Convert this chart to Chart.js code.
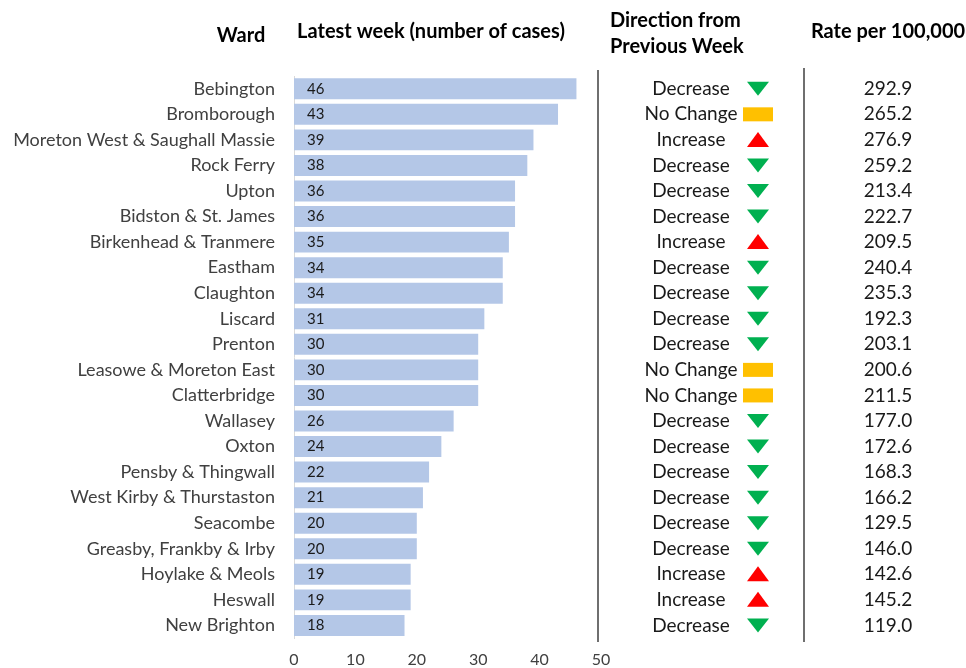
<!DOCTYPE html>
<html>
<head>
<meta charset="utf-8">
<script src="https://cdn.jsdelivr.net/npm/chart.js@4/dist/chart.umd.min.js"></script>
<style>
  html, body { margin: 0; padding: 0; background: #fff; }
  #wrap { width: 966px; height: 668px; position: relative; }
</style>
</head>
<body>
<div id="wrap"><canvas id="chart" width="966" height="668"></canvas></div>
<script>
// ward data, top to bottom
const wards = [
  'Bebington', 'Bromborough', 'Moreton West & Saughall Massie', 'Rock Ferry', 'Upton',
  'Bidston & St. James', 'Birkenhead & Tranmere', 'Eastham', 'Claughton', 'Liscard',
  'Prenton', 'Leasowe & Moreton East', 'Clatterbridge', 'Wallasey', 'Oxton',
  'Pensby & Thingwall', 'West Kirby & Thurstaston', 'Seacombe', 'Greasby, Frankby & Irby',
  'Hoylake & Meols', 'Heswall', 'New Brighton'
];
const cases = [46, 43, 39, 38, 36, 36, 35, 34, 34, 31, 30, 30, 30, 26, 24, 22, 21, 20, 20, 19, 19, 18];
const direction = [
  'Decrease', 'No Change', 'Increase', 'Decrease', 'Decrease',
  'Decrease', 'Increase', 'Decrease', 'Decrease', 'Decrease',
  'Decrease', 'No Change', 'No Change', 'Decrease', 'Decrease',
  'Decrease', 'Decrease', 'Decrease', 'Decrease',
  'Increase', 'Increase', 'Decrease'
];
const rates = [292.9, 265.2, 276.9, 259.2, 213.4, 222.7, 209.5, 240.4, 235.3, 192.3, 203.1,
  200.6, 211.5, 177.0, 172.6, 168.3, 166.2, 129.5, 146.0, 142.6, 145.2, 119.0];
const xTicks = [0, 10, 20, 30, 40, 50];

const FONT = 'Lato, "Open Sans", sans-serif';
const TEXT = '#404040';

// draws headers, in-bar values, direction column and rate column
const tablePlugin = {
  id: 'tableColumns',
  afterDraw(chart) {
    const ctx = chart.ctx;
    const y = chart.scales.y;
    const meta = chart.getDatasetMeta(0);
    ctx.save();

    // headers
    ctx.fillStyle = '#000';
    ctx.font = 'bold 20px ' + FONT;
    ctx.textBaseline = 'middle';
    ctx.textAlign = 'center';
    ctx.fillText('Ward', 241, 36);
    ctx.fillText('Latest week (number of cases)', 431, 32);
    ctx.fillText('Rate per 100,000', 888, 32);
    ctx.textAlign = 'left';
    ctx.fillText('Direction from', 610, 21);
    ctx.fillText('Previous Week', 610, 47);

    // separators
    ctx.strokeStyle = '#404040';
    ctx.lineWidth = 1.5;
    ctx.beginPath();
    ctx.moveTo(598, 70); ctx.lineTo(598, 642);
    ctx.moveTo(804, 68); ctx.lineTo(804, 642);
    ctx.stroke();

    wards.forEach((w, i) => {
      const py = y.getPixelForValue(i);
      // value inside bar
      ctx.fillStyle = '#1a1a1a';
      ctx.font = '15px ' + FONT;
      ctx.textAlign = 'left';
      ctx.fillText(String(cases[i]), meta.data[i].base + 13, py);
      // direction text and rate
      ctx.font = '19px ' + FONT;
      ctx.textAlign = 'center';
      ctx.fillText(direction[i], 691, py);
      ctx.fillText(rates[i].toFixed(1), 888, py);
      // icon
      const cx = 758;
      if (direction[i] === 'Decrease') {
        ctx.fillStyle = '#00B050';
        ctx.beginPath();
        ctx.moveTo(cx - 11, py - 7); ctx.lineTo(cx + 11, py - 7); ctx.lineTo(cx, py + 7);
        ctx.closePath(); ctx.fill();
      } else if (direction[i] === 'Increase') {
        ctx.fillStyle = '#FF0000';
        ctx.beginPath();
        ctx.moveTo(cx - 11, py + 7); ctx.lineTo(cx + 11, py + 7); ctx.lineTo(cx, py - 8);
        ctx.closePath(); ctx.fill();
      } else {
        ctx.fillStyle = '#FFC000';
        ctx.fillRect(743, py - 7, 30, 14);
      }
    });
    ctx.restore();
  }
};

new Chart(document.getElementById('chart').getContext('2d'), {
  type: 'bar',
  data: {
    labels: wards,
    datasets: [{
      data: cases,
      backgroundColor: '#B4C7E7',
      borderWidth: 0,
      barPercentage: 0.82,
      categoryPercentage: 1
    }]
  },
  options: {
    indexAxis: 'y',
    responsive: false,
    animation: false,
    layout: { padding: { top: 76, right: 365, bottom: 0, left: 0 } },
    plugins: { legend: { display: false }, tooltip: { enabled: false } },
    scales: {
      x: {
        min: 0,
        max: 50,
        afterBuildTicks: s => { s.ticks = xTicks.map(v => ({ value: v })); },
        afterFit: s => { s.height = 29; },
        grid: { display: false, drawTicks: false },
        border: { display: false },
        ticks: { color: TEXT, font: { family: FONT, size: 16 }, padding: 12 }
      },
      y: {
        afterFit: s => { s.width = 294; },
        grid: { display: false, drawTicks: false },
        border: { display: true, color: '#d9d9d9', width: 1 },
        ticks: { color: TEXT, font: { family: FONT, size: 18 }, padding: 19, autoSkip: false }
      }
    }
  },
  plugins: [tablePlugin]
});
</script>
</body>
</html>
